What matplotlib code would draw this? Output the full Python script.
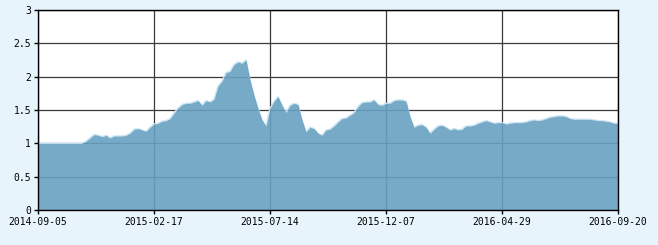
import numpy as np
import matplotlib
matplotlib.use('Agg')
import matplotlib.pyplot as plt

# net value, one sample about every 3-4 trading days
nav = [1.0, 1.0, 1.0, 1.0, 1.0, 1.0, 1.0, 1.0, 1.0, 1.0, 1.0, 1.0,
       1.03, 1.08, 1.13, 1.12, 1.10, 1.12, 1.08, 1.11, 1.11, 1.11, 1.12, 1.15,
       1.21, 1.22, 1.20, 1.18, 1.24, 1.29, 1.30, 1.33, 1.34, 1.37, 1.45, 1.53,
       1.58, 1.60, 1.60, 1.62, 1.64, 1.57, 1.64, 1.62, 1.66, 1.86, 1.93, 2.06,
       2.08, 2.18, 2.22, 2.20, 2.25, 1.95, 1.72, 1.52, 1.35, 1.26, 1.52, 1.63,
       1.70, 1.57, 1.46, 1.57, 1.60, 1.58, 1.35, 1.17, 1.24, 1.22, 1.15, 1.12,
       1.20, 1.21, 1.26, 1.32, 1.37, 1.38, 1.42, 1.46, 1.55, 1.61, 1.62, 1.62,
       1.65, 1.58, 1.57, 1.60, 1.60, 1.64, 1.65, 1.65, 1.63, 1.40, 1.24, 1.27,
       1.28, 1.24, 1.15, 1.21, 1.26, 1.27, 1.24, 1.20, 1.22, 1.20, 1.21, 1.26,
       1.26, 1.27, 1.30, 1.32, 1.34, 1.32, 1.30, 1.31, 1.31, 1.29, 1.30, 1.31,
       1.31, 1.31, 1.32, 1.34, 1.35, 1.34, 1.35, 1.37, 1.39, 1.40, 1.41, 1.41,
       1.40, 1.37, 1.36, 1.36, 1.36, 1.36, 1.36, 1.35, 1.34, 1.34, 1.33, 1.32,
       1.30, 1.30]
date_labels = ['2014-09-05', '2015-02-17', '2015-07-14', '2015-12-07', '2016-04-29', '2016-09-20']
y_ticks = [0, 0.5, 1, 1.5, 2, 2.5, 3]
y_labels = ['0', '0.5', '1', '1.5', '2', '2.5', '3']

x = np.arange(len(nav))
n_int = len(date_labels) - 1
tick_pos = [round(k * (len(nav) - 1) / n_int) for k in range(len(date_labels))]

bg = '#e8f4fc'
fig = plt.figure(figsize=(6.58, 2.45), dpi=100, facecolor=bg)
ax = fig.add_axes([38 / 658, 35 / 245, 580 / 658, 200 / 245])
ax.set_facecolor('white')

ax.set_axisbelow(True)
ax.grid(True, color='#3a3a3a', linewidth=0.9)
ax.plot(x, nav, color='#cde5f4', linewidth=1.1, zorder=2)
ax.fill_between(x, 0, nav, color='#67a1c0', alpha=0.9, linewidth=0, zorder=3)

ax.set_xlim(0, len(nav) - 1)
ax.set_ylim(0, 3)
ax.set_xticks(tick_pos)
ax.set_xticklabels(date_labels)
ax.set_yticks(y_ticks)
ax.set_yticklabels(y_labels)
ax.tick_params(direction='out', length=3, width=1, color='black', pad=2,
               labelsize=7, labelcolor='black')
for lab in ax.get_xticklabels() + ax.get_yticklabels():
    lab.set_family('DejaVu Sans Mono')
for s in ax.spines.values():
    s.set_color('black')
    s.set_linewidth(1.0)
    s.set_zorder(5)

fig.savefig('out.png', dpi=100, facecolor=bg)
